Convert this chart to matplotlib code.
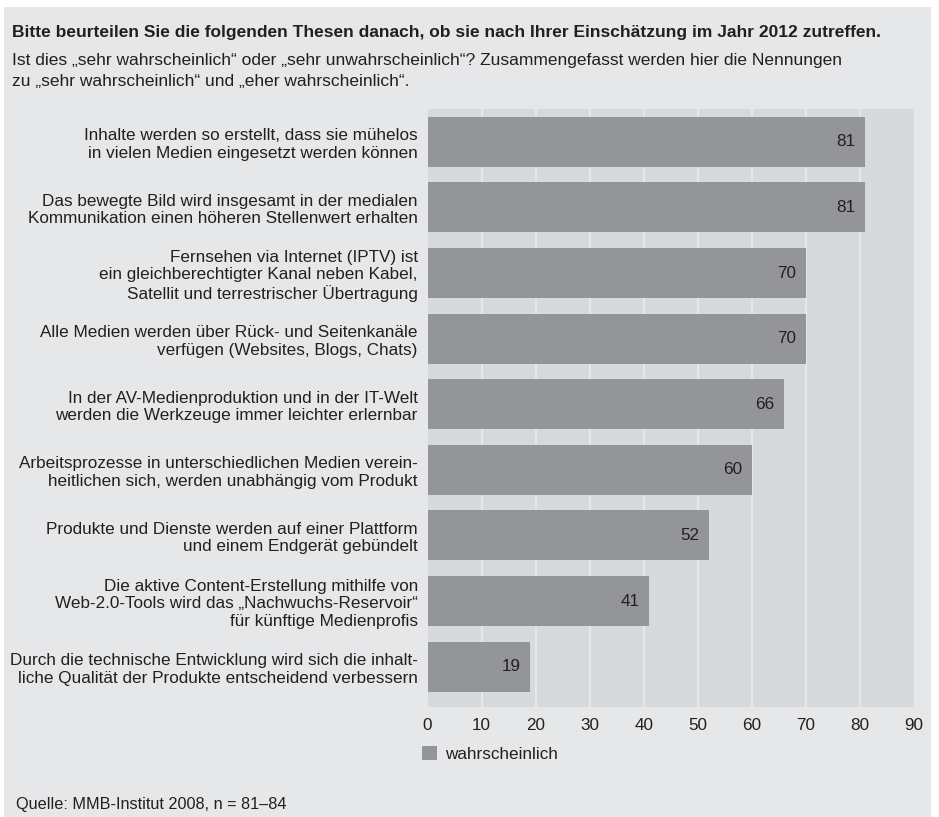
import matplotlib
matplotlib.use("Agg")
import matplotlib.pyplot as plt
from matplotlib import font_manager
from matplotlib.patches import Rectangle

# data
labels = [
    "Inhalte werden so erstellt, dass sie mühelos\nin vielen Medien eingesetzt werden können",
    "Das bewegte Bild wird insgesamt in der medialen\nKommunikation einen höheren Stellenwert erhalten",
    "Fernsehen via Internet (IPTV) ist\nein gleichberechtigter Kanal neben Kabel,\nSatellit und terrestrischer Übertragung",
    "Alle Medien werden über Rück- und Seitenkanäle\nverfügen (Websites, Blogs, Chats)",
    "In der AV-Medienproduktion und in der IT-Welt\nwerden die Werkzeuge immer leichter erlernbar",
    "Arbeitsprozesse in unterschiedlichen Medien verein-\nheitlichen sich, werden unabhängig vom Produkt",
    "Produkte und Dienste werden auf einer Plattform\nund einem Endgerät gebündelt",
    "Die aktive Content-Erstellung mithilfe von\nWeb-2.0-Tools wird das „Nachwuchs-Reservoir“\nfür künftige Medienprofis",
    "Durch die technische Entwicklung wird sich die inhalt-\nliche Qualität der Produkte entscheidend verbessern",
]
values = [81, 81, 70, 70, 66, 60, 52, 41, 19]
xticks = [0, 10, 20, 30, 40, 50, 60, 70, 80, 90]
series_name = "wahrscheinlich"

title = "Bitte beurteilen Sie die folgenden Thesen danach, ob sie nach Ihrer Einschätzung im Jahr 2012 zutreffen."
subtitle_lines = [
    "Ist dies „sehr wahrscheinlich“ oder „sehr unwahrscheinlich“? Zusammengefasst werden hier die Nennungen",
    "zu „sehr wahrscheinlich“ und „eher wahrscheinlich“.",
]
source = "Quelle: MMB-Institut 2008, n = 81–84"

# colours
bg = "#e6e7e8"
panel = "#d8d9db"
bar_col = "#949599"
txt = "#231f20"

# font: narrow if available
names = {f.name for f in font_manager.fontManager.ttflist}
if "Liberation Sans Narrow" in names:
    plt.rcParams["font.family"] = ["Liberation Sans Narrow", "DejaVu Sans"]
    fs, fs_title, fs_src = 14.5, 14, 14
else:
    plt.rcParams["font.family"] = ["Liberation Sans", "DejaVu Sans"]
    fs, fs_title, fs_src = 12.3, 12.5, 11.7

W, H = 939, 817
fig = plt.figure(figsize=(W / 100, H / 100), dpi=100, facecolor="white")

def fx(px):
    return px / W

def fy(py):
    return 1 - py / H

# grey card behind everything
fig.patches.append(Rectangle((fx(4), 0), fx(931) - fx(4), fy(7), transform=fig.transFigure,
                             facecolor=bg, edgecolor="none", zorder=-10))

# axes in pixel coords
left, right, top, bottom = 427.5, 914, 109, 707.3
ax = fig.add_axes([fx(left), fy(bottom), fx(right) - fx(left), (bottom - top) / H])
ax.set_facecolor(panel)

y = list(range(len(values)))
bars = ax.barh(y, values, height=0.76, color=bar_col, label=series_name, zorder=3)
for v, b in zip(values, bars):
    ax.annotate(str(v), (v, b.get_y() + b.get_height() / 2), xytext=(-7, 0), textcoords="offset points",
                ha="right", va="center", fontsize=fs, color=txt, zorder=4)

ax.set_xlim(0, 90)
ax.set_ylim(8.62, -0.5)
ax.set_xticks(xticks)
ax.set_xticklabels([str(t) for t in xticks])
ax.set_yticks(y)
ax.set_yticklabels(labels, linespacing=1.2)
ax.tick_params(axis="both", length=0, labelsize=fs, colors=txt)
ax.tick_params(axis="x", pad=8)
ax.tick_params(axis="y", pad=7)
for lab in ax.get_yticklabels():
    lab.set_ha("right")
    lab.set_multialignment("right")
for s in ax.spines.values():
    s.set_visible(False)
for t in xticks[1:-1]:
    ax.axvline(t, color=bg, lw=1.5, zorder=1)

# titles
fig.text(fx(12), fy(33), title, fontsize=fs_title, fontweight="bold", color=txt, va="center", ha="left")
fig.text(fx(12), fy(60), subtitle_lines[0], fontsize=fs_title, color=txt, va="center", ha="left")
fig.text(fx(12), fy(82), subtitle_lines[1], fontsize=fs_title, color=txt, va="center", ha="left")

# legend
fig.legend(handles=[bars], labels=[series_name], loc="center left", bbox_to_anchor=(fx(422), fy(754)),
           frameon=False, borderpad=0, borderaxespad=0, handlelength=0.85, handleheight=0.85,
           handletextpad=0.5, fontsize=fs, labelcolor=txt)

fig.text(fx(16), fy(805), source, fontsize=fs_src, color=txt, va="center", ha="left")

fig.savefig("out.png", dpi=100, facecolor="white")
